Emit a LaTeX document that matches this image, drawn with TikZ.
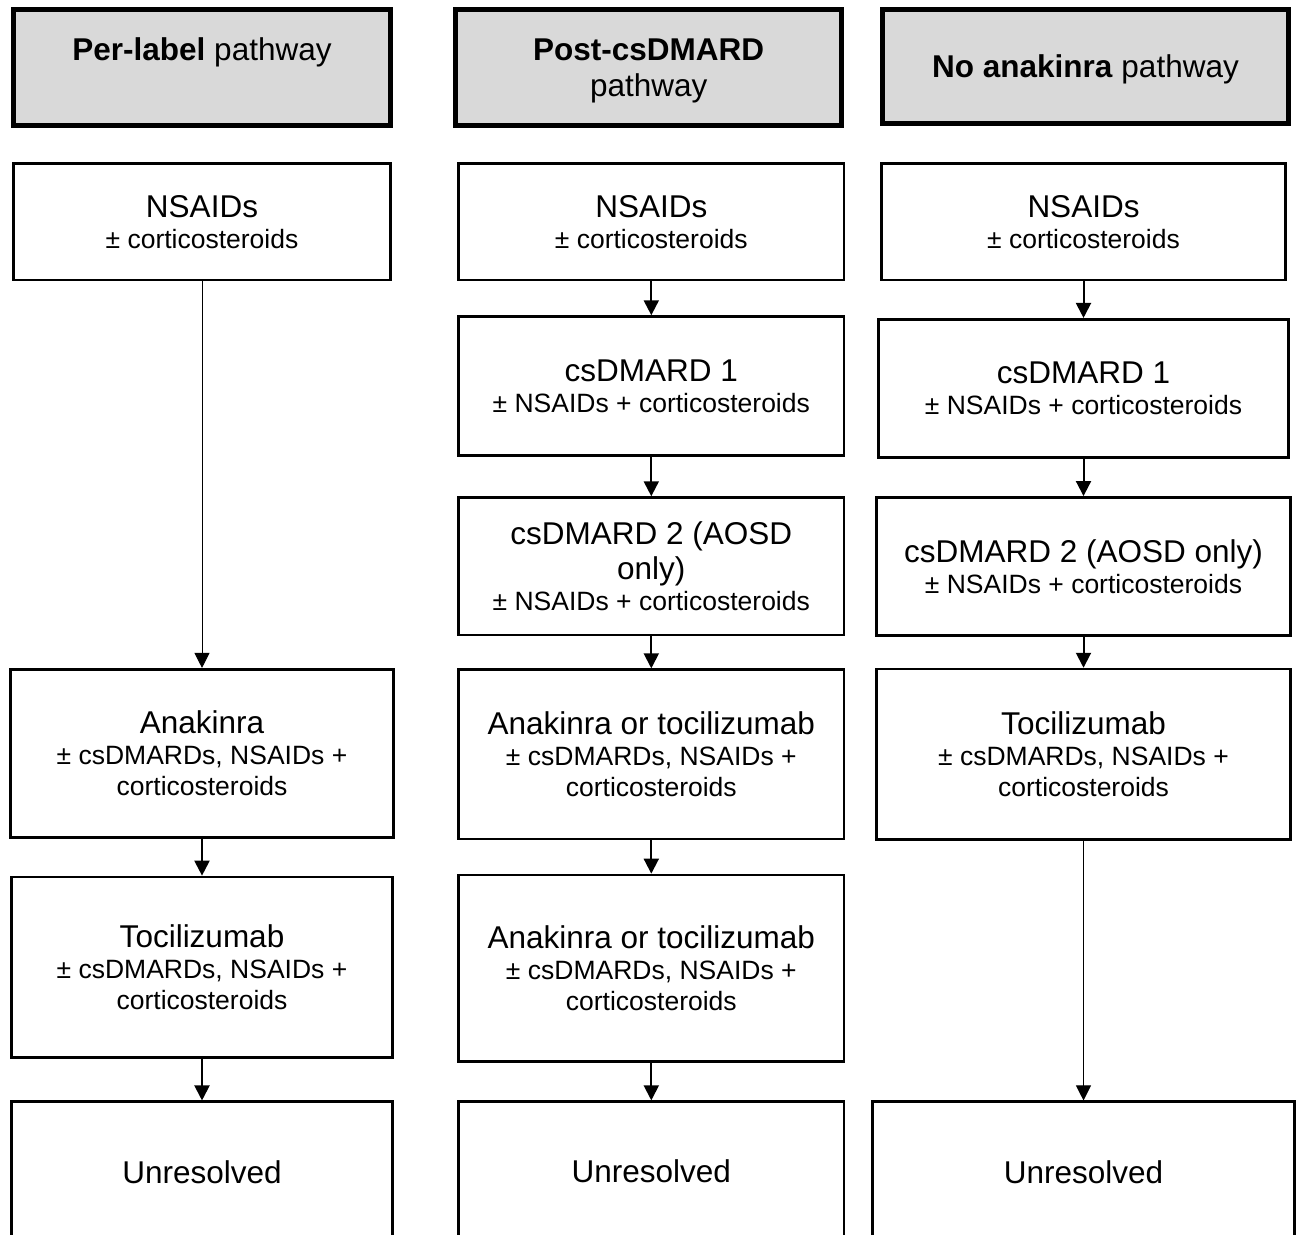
\documentclass[tikz,border=0pt]{standalone}
\usepackage{fontspec}
\setmainfont{Liberation Sans}
\usetikzlibrary{arrows.meta,positioning}
\newcommand{\subtxt}{\fontsize{26.5}{31}\selectfont}

\begin{document}
\begin{tikzpicture}[
  x=1pt, y=-1pt,
  head/.style={draw, line width=5.3pt, fill=gray!30, align=center,
               font=\fontsize{31.5}{36}\selectfont, inner sep=0pt, text depth=0pt},
  box/.style={draw, line width=2.7pt, fill=white, align=center,
              font=\fontsize{31.5}{31}\selectfont, inner sep=0pt},
  arr/.style={-{Triangle[width=15pt,length=15pt]}, line width=2pt},
  longarr/.style={arr, line width=1pt}]
  \useasboundingbox (0,0) rectangle (1298,1234);
  \clip (0,0) rectangle (1298,1234);

  % pathway headers
  \node[head, minimum width=377pt, minimum height=116pt] (h1) at (202,67.5)
    {\textbf{Per-label} pathway\\\mbox{}};
  \node[head, minimum width=386pt, minimum height=116pt] (h2) at (648.7,67.5)
    {\textbf{Post-csDMARD}\\pathway};
  \node[head, minimum width=406pt, minimum height=114pt] (h3) at (1085.5,66.5)
    {\textbf{No anakinra} pathway};

  % per-label
  \node[box, minimum width=377.4pt, minimum height=116.4pt, below=34pt of h1] (n1)
    {NSAIDs\\\subtxt ± corticosteroids};
  \node[box, minimum width=383.4pt, minimum height=168pt, below=386.7pt of n1] (a1)
    {Anakinra\\\subtxt ± csDMARDs, NSAIDs +\\\subtxt corticosteroids};
  \node[box, minimum width=381pt, minimum height=180.4pt, below=37pt of a1] (t1)
    {Tocilizumab\\\subtxt ± csDMARDs, NSAIDs +\\\subtxt corticosteroids};
  \node[box, minimum width=380.4pt, minimum height=140pt, below=41.7pt of t1] (u1)
    {Unresolved};

  % post-csDMARD
  \node[box, minimum width=385.4pt, minimum height=116.4pt, below=34pt of h2, xshift=2.6pt] (n2)
    {NSAIDs\\\subtxt ± corticosteroids};
  \node[box, minimum width=385.4pt, minimum height=139pt, below=34pt of n2] (c21)
    {csDMARD 1\\\subtxt ± NSAIDs + corticosteroids};
  \node[box, minimum width=385.4pt, minimum height=137.4pt, below=39.3pt of c21] (c22)
    {csDMARD 2 (AOSD\\[4pt]only)\\\subtxt ± NSAIDs + corticosteroids};
  \node[box, minimum width=385.4pt, minimum height=169.3pt, below=32pt of c22] (a2)
    {Anakinra or tocilizumab\\\subtxt ± csDMARDs, NSAIDs +\\\subtxt corticosteroids};
  \node[box, minimum width=385.4pt, minimum height=186.3pt, below=33.3pt of a2] (a22)
    {Anakinra or tocilizumab\\\subtxt ± csDMARDs, NSAIDs +\\\subtxt corticosteroids};
  \node[box, minimum width=385.4pt, minimum height=140pt, below=37.7pt of a22] (u2)
    {Unresolved};

  % no anakinra
  \node[box, minimum width=403.4pt, minimum height=116.4pt, below=36pt of h3, xshift=-2pt] (n3)
    {NSAIDs\\\subtxt ± corticosteroids};
  \node[box, minimum width=409.4pt, minimum height=138pt, below=36.7pt of n3] (c31)
    {csDMARD 1\\\subtxt ± NSAIDs + corticosteroids};
  \node[box, minimum width=413.4pt, minimum height=138.4pt, below=37.4pt of c31] (c32)
    {csDMARD 2 (AOSD only)\\\subtxt ± NSAIDs + corticosteroids};
  \node[box, minimum width=413.4pt, minimum height=170.7pt, below=30.6pt of c32] (t3)
    {Tocilizumab\\\subtxt ± csDMARDs, NSAIDs +\\\subtxt corticosteroids};
  \node[box, minimum width=422.4pt, minimum height=140pt, below=259.3pt of t3] (u3)
    {Unresolved};

  \draw[longarr] (n1) -- (a1);
  \draw[arr] (a1) -- (t1);
  \draw[arr] (t1) -- (u1);
  \draw[arr] (n2) -- (c21);
  \draw[arr] (c21) -- (c22);
  \draw[arr] (c22) -- (a2);
  \draw[arr] (a2) -- (a22);
  \draw[arr] (a22) -- (u2);
  \draw[arr] (n3) -- (c31);
  \draw[arr] (c31) -- (c32);
  \draw[arr] (c32) -- (t3);
  \draw[longarr] (t3) -- (u3);
\end{tikzpicture}
\end{document}
